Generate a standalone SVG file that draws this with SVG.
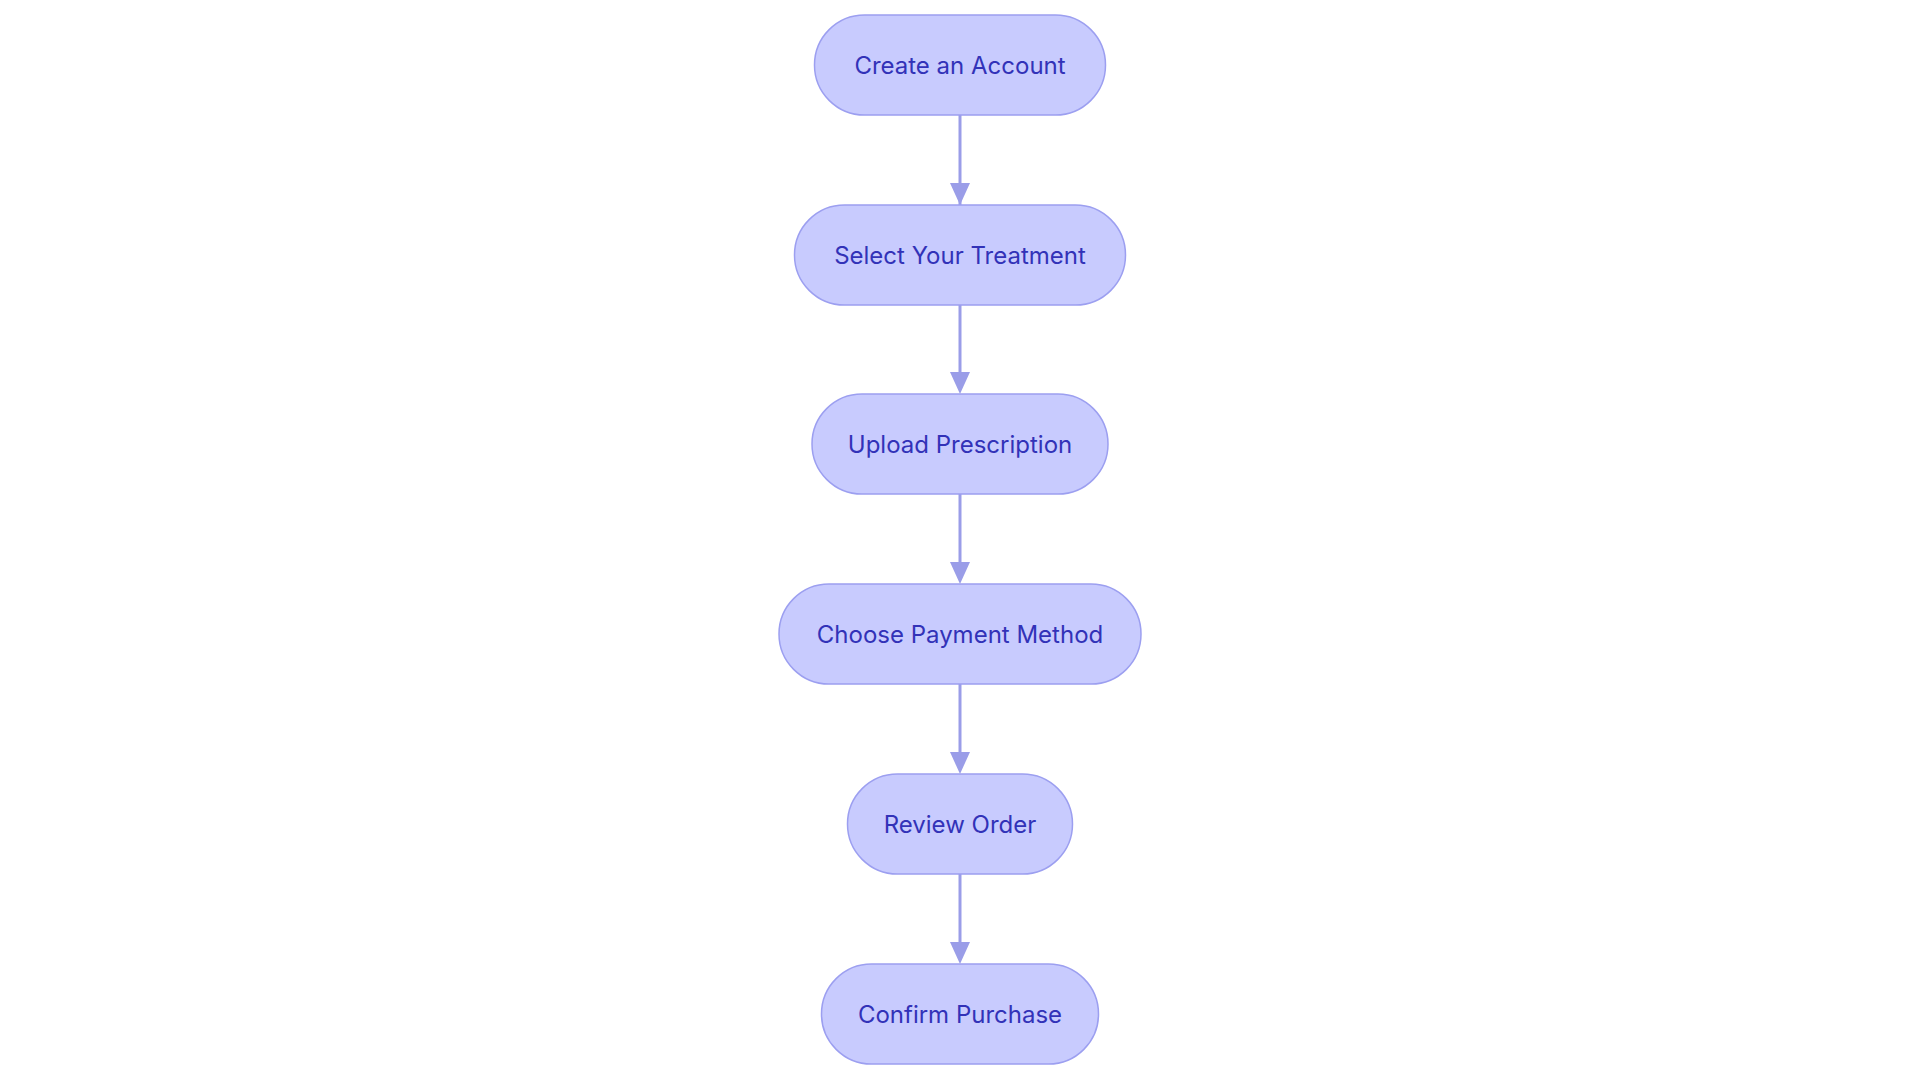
<svg xmlns="http://www.w3.org/2000/svg" width="1920" height="1083" viewBox="0 0 1920 1083">
<style>
.n rect{fill:#c8cbfe;stroke:#9c9ff0;stroke-width:1.5}
.n text{font-family:Inter,"Noto Sans",sans-serif;font-size:24px;fill:#3232b8;text-anchor:middle;dominant-baseline:central}
.e{stroke:#9a9de8;stroke-width:3;fill:none;marker-end:url(#a)}
</style>
<defs><marker id="a" viewBox="0 0 10 10" refX="10" refY="5" markerWidth="8" markerHeight="8" markerUnits="userSpaceOnUse" orient="auto"><path d="M0,0L10,5L0,10z" fill="#9a9de8"/></marker></defs>
<rect width="1920" height="1083" fill="#fff"/>
<g id="connectors">
<line class="e" x1="960" y1="115" x2="960" y2="205" style="marker-end:none"/>
<path d="M950,183L960,205L970,183z" fill="#9a9de8"/>
<line class="e" x1="960" y1="305" x2="960" y2="385" style="marker-end:none"/>
<path d="M950,372L960,394L970,372z" fill="#9a9de8"/>
<line class="e" x1="960" y1="494" x2="960" y2="574" style="marker-end:none"/>
<path d="M950,562L960,584L970,562z" fill="#9a9de8"/>
<line class="e" x1="960" y1="684" x2="960" y2="764" style="marker-end:none"/>
<path d="M950,752L960,774L970,752z" fill="#9a9de8"/>
<line class="e" x1="960" y1="874" x2="960" y2="954" style="marker-end:none"/>
<path d="M950,942L960,964L970,942z" fill="#9a9de8"/>
</g>
<g id="n1" class="n"><rect x="814.5" y="15" width="291" height="100" rx="50"/><text x="960" y="65">Create an Account</text></g>
<g id="n2" class="n"><rect x="794.5" y="205" width="331" height="100" rx="50"/><text x="960" y="255">Select Your Treatment</text></g>
<g id="n3" class="n"><rect x="812" y="394" width="296" height="100" rx="50"/><text x="960" y="444">Upload Prescription</text></g>
<g id="n4" class="n"><rect x="779" y="584" width="362" height="100" rx="50"/><text x="960" y="634">Choose Payment Method</text></g>
<g id="n5" class="n"><rect x="847.5" y="774" width="225" height="100" rx="50"/><text x="960" y="824">Review Order</text></g>
<g id="n6" class="n"><rect x="821.5" y="964" width="277" height="100" rx="50"/><text x="960" y="1014">Confirm Purchase</text></g>
</svg>
